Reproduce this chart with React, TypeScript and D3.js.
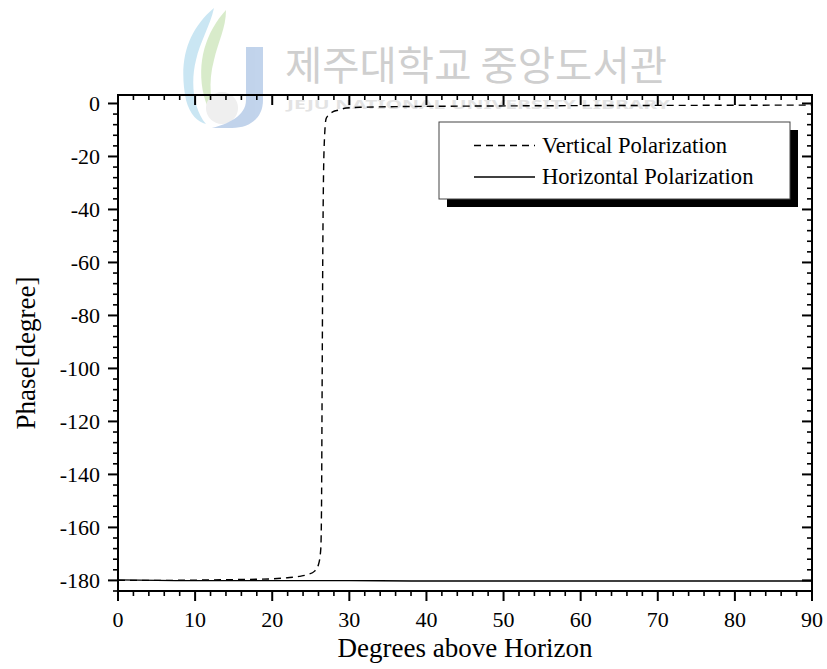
import React from "react";
import * as d3 from "d3";

// Phase of the reflection coefficient vs. elevation angle
const xTickValues = [0, 10, 20, 30, 40, 50, 60, 70, 80, 90];
const yTickValues = [0, -20, -40, -60, -80, -100, -120, -140, -160, -180];
const xDomain = [0, 90];
const yDomain = [-184, 3.2];

const verticalAngle = [
  0, 5, 10, 15, 20, 22, 23.5, 24.6, 25.5, 26.0, 26.3, 26.4, 26.45, 26.5, 26.55,
  26.62, 26.75, 27.0, 27.9, 28.6, 29.6, 32, 36, 45, 60, 75, 90,
];
const verticalPhase = [
  -180, -180, -179.9, -179.7, -179.4, -179, -178.5, -177.8, -176.5, -174, -168,
  -150, -120, -90, -60, -35, -15, -5.6, -3.1, -2.5, -1.7, -1.4, -1.2, -1.0, -0.8,
  -0.7, -0.6,
];

const horizontalAngle = [0, 5, 10, 20, 30, 38, 50, 60, 70, 80, 90];
const horizontalPhase = [
  -179.8, -180, -180.1, -180.1, -180.1, -180.2, -180.2, -180.2, -180.2, -180.2,
  -180.2,
];

const legendLabels = ["Vertical Polarization", "Horizontal Polarization"];
const xTitle = "Degrees above Horizon";
const yTitle = "Phase[degree]";
const watermarkKo = "제주대학교 중앙도서관";
const watermarkEn = "JEJU NATIONAL UNIVERSITY LIBRARY";

const W = 827;
const H = 669;
const left = 118;
const right = 812;
const top = 95;
const bottom = 591;

const serif = "'Liberation Serif', 'Times New Roman', serif";

export default function App() {
  const x = d3.scaleLinear().domain(xDomain).range([left, right]);
  const y = d3.scaleLinear().domain(yDomain).range([bottom, top]);

  const xMinor = d3.range(0, 90.001, 2);
  const yMinor = d3.range(-184, 0.001, 4);

  const line = d3
    .line<[number, number]>()
    .x((d) => x(d[0]))
    .y((d) => y(d[1]))
    .curve(d3.curveMonotoneX);

  const vData = verticalAngle.map((a, i) => [a, verticalPhase[i]] as [number, number]);
  const hData = horizontalAngle.map((a, i) => [a, horizontalPhase[i]] as [number, number]);

  const isMajorX = (v: number) => xTickValues.includes(v);
  const isMajorY = (v: number) => yTickValues.includes(v);

  // legend box
  const lgX = 439;
  const lgY = 122;
  const lgW = 351;
  const lgH = 77;

  return (
    <div style={{ position: "absolute", left: 0, top: 0 }}>
      <svg width={W} height={H} style={{ display: "block", background: "#fff" }}>
        {/* library watermark */}
        <g opacity={0.55}>
          <path
            d="M214,8 C188,30 178,60 186,100 C190,115 198,122 206,124 C194,110 190,84 196,60 C200,42 210,26 214,8 Z"
            fill="#9fd3ea"
          />
          <path
            d="M226,10 C206,32 196,62 204,96 C207,108 212,116 218,120 C210,104 208,82 214,60 C218,42 226,28 226,10 Z"
            fill="#b9dca0"
          />
          <circle cx={222} cy={108} r={16} fill="#e2e2e2" />
          <path
            d="M246,47 L263,47 L263,100 C263,118 250,128 232,128 L212,128 C228,124 246,116 246,100 Z"
            fill="#8fb0dc"
          />
        </g>
        <text
          x={285}
          y={80}
          fontFamily="'Noto Sans CJK KR', sans-serif"
          fontSize={40}
          fill="#cfcfcf"
          textLength={382}
          lengthAdjust="spacingAndGlyphs"
        >
          {watermarkKo}
        </text>
        <text
          x={287}
          y={109}
          fontFamily="'Noto Sans', sans-serif"
          fontWeight="bold"
          fontSize={13}
          fill="#e3e3e3"
          textLength={383}
          lengthAdjust="spacingAndGlyphs"
        >
          {watermarkEn}
        </text>

        {/* curves */}
        <path
          d={line(hData) || ""}
          fill="none"
          stroke="#000"
          strokeWidth={1.4}
        />
        <path
          d={line(vData) || ""}
          fill="none"
          stroke="#000"
          strokeWidth={1.4}
          strokeDasharray="7,5"
        />

        {/* frame */}
        <rect
          x={left}
          y={top}
          width={right - left}
          height={bottom - top}
          fill="none"
          stroke="#000"
          strokeWidth={2}
        />

        {/* bottom axis (outward) and top axis (inward) */}
        {xMinor.map((v) => {
          const len = isMajorX(v) ? 10 : 5;
          const sw = isMajorX(v) ? 2 : 1.6;
          return (
            <g key={"xt" + v}>
              <line x1={x(v)} x2={x(v)} y1={bottom} y2={bottom + len} stroke="#000" strokeWidth={sw} />
              <line x1={x(v)} x2={x(v)} y1={top} y2={top + len} stroke="#000" strokeWidth={sw} />
            </g>
          );
        })}
        {xTickValues.map((v) => (
          <text
            key={"xl" + v}
            x={x(v)}
            y={627}
            textAnchor="middle"
            fontFamily={serif}
            fontSize={22}
            fill="#000"
          >
            {v}
          </text>
        ))}

        {/* left axis (outward) and right axis (inward) */}
        {yMinor.map((v) => {
          const len = isMajorY(v) ? 10 : 5;
          const sw = isMajorY(v) ? 2 : 1.6;
          return (
            <g key={"yt" + v}>
              <line x1={left - len} x2={left} y1={y(v)} y2={y(v)} stroke="#000" strokeWidth={sw} />
              <line x1={right - len} x2={right} y1={y(v)} y2={y(v)} stroke="#000" strokeWidth={sw} />
            </g>
          );
        })}
        {yTickValues.map((v) => (
          <text
            key={"yl" + v}
            x={100}
            y={y(v) + 8}
            textAnchor="end"
            fontFamily={serif}
            fontSize={22}
            fill="#000"
          >
            {v}
          </text>
        ))}

        {/* axis titles */}
        <text
          x={(left + right) / 2}
          y={657}
          textAnchor="middle"
          fontFamily={serif}
          fontSize={27}
          fill="#000"
        >
          {xTitle}
        </text>
        <text
          transform={`translate(35, ${(top + bottom) / 2 + 10}) rotate(-90)`}
          textAnchor="middle"
          fontFamily={serif}
          fontSize={27}
          fill="#000"
        >
          {yTitle}
        </text>

        {/* legend with drop shadow */}
        <rect x={lgX + 8} y={lgY + 8} width={lgW} height={lgH} fill="#000" />
        <rect x={lgX} y={lgY} width={lgW} height={lgH} fill="#fff" stroke="#444" strokeWidth={1} />
        <line x1={474} x2={535} y1={145.5} y2={145.5} stroke="#000" strokeWidth={1.4} strokeDasharray="7,5" />
        <line x1={474} x2={535} y1={177} y2={177} stroke="#000" strokeWidth={1.4} />
        <text x={542} y={152.5} fontFamily={serif} fontSize={22.6} fill="#000">
          {legendLabels[0]}
        </text>
        <text x={542} y={184} fontFamily={serif} fontSize={22.6} fill="#000">
          {legendLabels[1]}
        </text>
      </svg>
    </div>
  );
}
